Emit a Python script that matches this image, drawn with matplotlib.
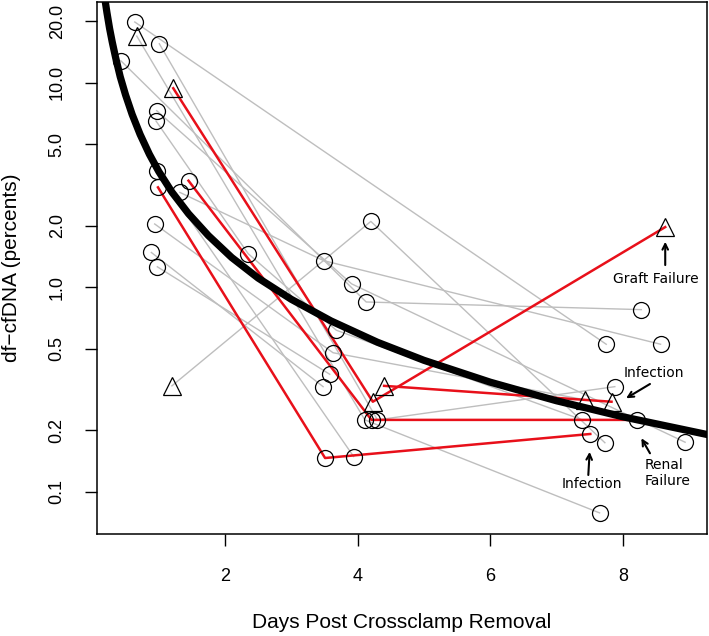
import matplotlib
matplotlib.use('Agg')
import matplotlib.pyplot as plt

plt.rcParams['font.family'] = ['Liberation Sans', 'DejaVu Sans']

# each patient: sample days, df-cfDNA (percent), sample kind (c = circle, t = triangle), complication
patient_days = [
    [0.64, 7.75],
    [0.67, 4.11, 7.65],
    [1.01, 4.30, 7.88],
    [0.43, 4.13, 8.28],
    [0.97, 3.91, 8.94],
    [0.96, 2.35, 3.68, 7.39],
    [0.97, 3.94],
    [1.32, 3.49, 8.57],
    [0.94, 3.63, 7.43],
    [0.89, 3.48],
    [0.98, 3.58],
    [1.20, 4.20, 7.73],
    [1.22, 4.23, 8.64],
    [1.45, 4.21, 8.22],
    [0.99, 3.51, 7.51],
    [4.40, 7.83],
]
patient_cfdna = [
    [19.8, 0.527],
    [16.9, 0.225, 0.079],
    [15.5, 0.225, 0.327],
    [12.8, 0.848, 0.778],
    [7.3, 1.04, 0.175],
    [6.5, 1.46, 0.617, 0.225],
    [3.69, 0.149],
    [2.91, 1.35, 0.527],
    [2.04, 0.479, 0.282],
    [1.48, 0.327],
    [1.26, 0.376],
    [0.33, 2.10, 0.174],
    [9.4, 0.276, 1.97],
    [3.32, 0.225, 0.225],
    [3.08, 0.1465, 0.192],
    [0.33, 0.276],
]
patient_kind = [
    'cc', 'tcc', 'ccc', 'ccc', 'ccc', 'cccc', 'cc', 'ccc', 'cct', 'cc', 'cc',
    'tcc', 'ttt', 'ccc', 'ccc', 'tt',
]
patient_event = [None] * 12 + ['Graft Failure', 'Renal Failure', 'Infection', 'Infection']

# fitted trend curve
trend_days = [0.19, 0.22, 0.26, 0.30, 0.35, 0.42, 0.50, 0.60, 0.72, 0.86, 1.0, 1.2,
              1.45, 1.75, 2.1, 2.5, 3.0, 3.6, 4.3, 5.0, 6.0, 7.0, 8.0, 9.3]
trend_cfdna = [25.5, 22.0, 18.4, 15.8, 13.3, 10.7, 8.73, 7.00, 5.59, 4.47, 3.69, 2.92,
               2.29, 1.79, 1.40, 1.11, 0.874, 0.685, 0.539, 0.440, 0.344, 0.279, 0.233, 0.190]

y_ticks = [0.1, 0.2, 0.5, 1.0, 2.0, 5.0, 10.0, 20.0]
y_tick_labels = ['0.1', '0.2', '0.5', '1.0', '2.0', '5.0', '10.0', '20.0']
x_ticks = [2, 4, 6, 8]

fig = plt.figure(figsize=(7.09, 6.36), dpi=100)
ax = fig.add_axes([97 / 709, 1 - 534 / 636, 610 / 709, 532 / 636])

# gray patients first, red ones on top
for days, vals, ev in zip(patient_days, patient_cfdna, patient_event):
    if ev is None:
        ax.plot(days, vals, color='#bebebe', lw=1.0, zorder=1)
for days, vals, ev in zip(patient_days, patient_cfdna, patient_event):
    if ev is not None:
        ax.plot(days, vals, color='#e8101a', lw=1.8, zorder=2)

ax.plot(trend_days, trend_cfdna, color='black', lw=5.2, zorder=3, solid_capstyle='butt')

for days, vals, kinds in zip(patient_days, patient_cfdna, patient_kind):
    for d, v, k in zip(days, vals, kinds):
        if k == 'c':
            ax.plot(d, v, 'o', ms=11.5, mfc='none', mec='black', mew=0.9, zorder=4)
        else:
            ax.plot(d, v, '^', ms=13, mfc='none', mec='black', mew=0.9, zorder=4)

ax.set_yscale('log')
ax.set_xlim(0.07, 9.27)
ax.set_ylim(0.0623, 24.8)
ax.set_xticks(x_ticks)
ax.set_xticklabels([str(t) for t in x_ticks])
ax.set_yticks(y_ticks)
ax.set_yticklabels(y_tick_labels, rotation=90, va='center')
ax.minorticks_off()
ax.tick_params(length=8.5, width=1.0, labelsize=13)
ax.tick_params(axis='x', pad=16)
ax.tick_params(axis='y', pad=14)
for s in ax.spines.values():
    s.set_linewidth(1.1)

ax.set_xlabel('Days Post Crossclamp Removal', fontsize=15, labelpad=20)
ax.set_ylabel('df\u2212cfDNA (percents)', fontsize=15, labelpad=20)

# event annotations
arrow = dict(arrowstyle='->', lw=1.5, color='black', shrinkA=0, shrinkB=0)
note_font = dict(family='DejaVu Sans', fontsize=10)
ax.annotate('', xy=(8.64, 1.67), xytext=(8.64, 1.285), arrowprops=arrow)
ax.text(8.50, 1.098, 'Graft Failure', ha='center', va='center', **note_font)
ax.annotate('', xy=(8.05, 0.287), xytext=(8.41, 0.337), arrowprops=arrow)
ax.text(8.47, 0.383, 'Infection', ha='center', va='center', **note_font)
ax.annotate('', xy=(7.50, 0.157), xytext=(7.48, 0.121), arrowprops=arrow)
ax.text(7.54, 0.1094, 'Infection', ha='center', va='center', **note_font)
ax.annotate('', xy=(8.28, 0.183), xytext=(8.41, 0.1545), arrowprops=arrow)
ax.text(8.67, 0.124, 'Renal\nFailure', ha='center', va='center',
        multialignment='left', **note_font)

fig.savefig('out.png', dpi=100)
